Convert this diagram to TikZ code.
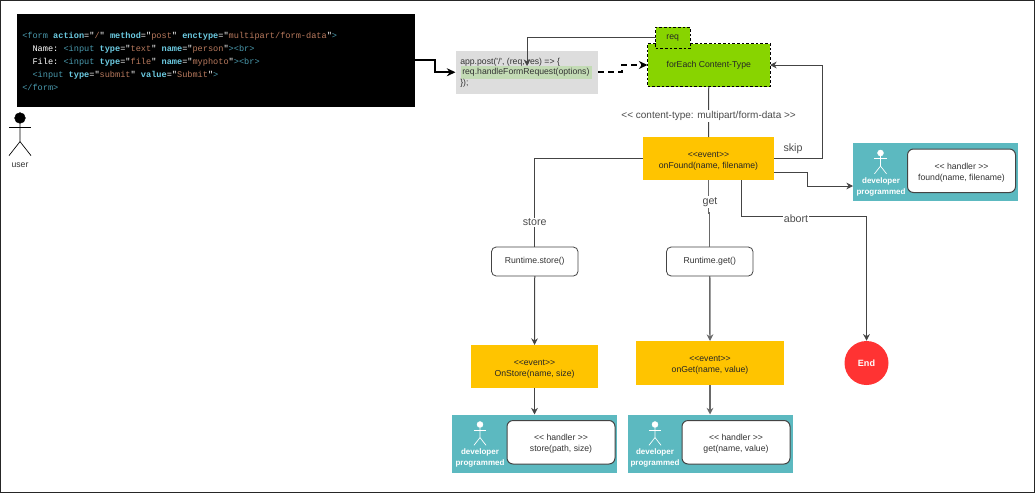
\documentclass[tikz,border=0pt]{standalone}
\usepackage{fontspec}
\usetikzlibrary{arrows.meta}
\setmainfont{Liberation Sans}
\newfontfamily\codefont{Liberation Mono}
\definecolor{evcol}{HTML}{FFC400}
\definecolor{devcol}{HTML}{5CB9C0}
\definecolor{limecol}{HTML}{88D400}
\definecolor{appcol}{HTML}{DDDDDD}
\definecolor{hlcol}{HTML}{C3DBB5}
\definecolor{linecol}{HTML}{444444}
\definecolor{tagcol}{HTML}{4A9AAE}
\definecolor{attrcol}{HTML}{6CCBE2}
\definecolor{valcol}{HTML}{B97A5E}
\newcommand{\tg}[1]{\textcolor{tagcol}{#1}}
\newcommand{\at}[1]{\textcolor{attrcol}{\bfseries #1}}
\newcommand{\vl}[1]{\textcolor{valcol}{#1}}
\newcommand{\toptxt}[1]{\rule{0pt}{7.5pt}#1}
\newcommand{\stickman}[5]{% name, x, y of head, colour, scale
\node[draw=#4,fill=#4,shape=circle,inner sep=0pt,minimum size=#5*8pt,name=#1] at (#2,#3){};
\draw[#4,line width=.5pt] (#1.south)--++(0,#5*18)--++(#5*-11,#5*14);
\draw[#4,line width=.5pt] (#1.south)++(0,#5*18)--++(#5*11,#5*14);
\draw[#4,line width=.5pt] (#1.south)++(#5*-11,#5*4)--++(#5*22,0);
}
\tikzset{
  wh/.style 2 args={minimum width=#1*0.75pt,minimum height=#2*0.75pt,inner sep=0pt,outer sep=0pt},
  txt/.style={font=\fontsize{6.5}{8.25}\selectfont,text=black!80,align=center},
  lab/.style={font=\fontsize{8}{9.5}\selectfont,text=black!70,fill=white,inner sep=.8pt},
  evbox/.style={fill=evcol,txt,text=black!85},
  devbox/.style={fill=devcol,wh={165}{58}},
  handlerbox/.style={draw=linecol,line width=.75pt,fill=white,rounded corners=4.5pt,wh={108}{43.5},txt},
  rtbox/.style={draw=linecol,line width=.6pt,fill=white,rounded corners=3.5pt,wh={86.5}{29},txt},
  devtxt/.style={font=\fontsize{6}{7.6}\selectfont\bfseries,text=white,align=center,inner sep=0pt},
  conn/.style={draw=linecol,line width=.75pt,-{Stealth[length=5pt,width=5pt]}},
  thickconn/.style={draw=black,line width=1.2pt,-{Stealth[length=6.5pt,width=6pt]}},
  limebox/.style={draw=black,dash pattern=on 2pt off 1.5pt,line width=.6pt,fill=limecol,txt,text=black!85},
}
\begin{document}
\begin{tikzpicture}[x=0.75pt,y=-0.75pt]
\useasboundingbox (0,0) rectangle (1035,493);
\draw[draw=black!85,line width=1pt] (0.5,0.5) rectangle (1034.5,492.5);
% form and user
\node[fill=black,wh={398}{93},name=form] at (216,60.5){};
\node[anchor=west,inner sep=0pt,align=left,text=white,font=\codefont\fontsize{6.45}{9.75}\selectfont\frenchspacing,name=formtxt] at (22,61){%
\tg{<form} \at{action}="\vl{/}" \at{method}="\vl{post}" \at{enctype}="\vl{multipart/form-data}"\tg{>}\\
\ \ Name: \tg{<input} \at{type}="\vl{text}" \at{name}="\vl{person}"\tg{><br>}\\
\ \ File: \tg{<input} \at{type}="\vl{file}" \at{name}="\vl{myphoto}"\tg{><br>}\\
\ \ \tg{<input} \at{type}="\vl{submit}" \at{value}="\vl{Submit}"\tg{>}\\
\tg{</form>}};
\stickman{userhead}{20}{118}{black}{1}
\node[txt,name=user] at (20,165){user};
% app.post box
\node[fill=appcol,wh={142.5}{43.5},name=app] at (526.75,72.25){};
\node[fill=hlcol,wh={131}{13},name=appreq] at (526.5,72){};
\node[txt,anchor=west,inner sep=0pt,name=apptop] at (460,62){app.post(\textquotesingle/\textquotesingle, (req, res) => \{};
\node[txt,anchor=west,inner sep=0pt,name=appmid] at (462,72){req.handleFormRequest(options)};
\node[txt,anchor=west,inner sep=0pt,name=append] at (460,83){\});};
% forEach
\node[limebox,wh={122.5}{43},name=foreach] at (708.75,65){forEach Content-Type};
\node[limebox,wh={34.5}{21.5},name=req] at (672.75,37.75){req};
% events
\node[evbox,wh={131}{43},name=found] at (708.5,158.5){\toptxt{<{}<event>{}>}\\onFound(name, filename)};
\node[evbox,wh={127}{43},name=onstore] at (534.5,366.5){\toptxt{<{}<event>{}>}\\OnStore(name, size)};
\node[evbox,wh={148}{44},name=onget] at (710,363){\toptxt{<{}<event>{}>}\\onGet(name, value)};
\node[rtbox,name=rtstore] at (534.75,261.5){Runtime.store()};
\node[rtbox,name=rtget] at (709.75,261.5){Runtime.get()};
\node[fill=red!80!white,shape=circle,minimum size=33pt,inner sep=0pt,text=white,font=\fontsize{6.8}{8}\selectfont\bfseries,name=theend] at (866.5,363){End};
% developer programmed
\node[devbox,name=dev1] at (935.5,172){};
\node[devbox,name=dev2] at (534.75,443.5){};
\node[devbox,name=dev3] at (710,443.5){};
\node[handlerbox,name=h1] at (961.5,170.75){\toptxt{<{}< handler >{}>}\\found(name, filename)};
\node[handlerbox,name=h2] at (561,442.25){\toptxt{<{}< handler >{}>}\\store(path, size)};
\node[handlerbox,name=h3] at (736,442.25){\toptxt{<{}< handler >{}>}\\get(name, value)};
\stickman{head1}{880.5}{153}{white}{.55}
\stickman{head2}{480}{424.5}{white}{.55}
\stickman{head3}{655}{424.5}{white}{.55}
\node[devtxt,name=d1] at (881,187){developer\\programmed};
\node[devtxt,name=d2] at (480,458){developer\\programmed};
\node[devtxt,name=d3] at (655,458){developer\\programmed};
% connectors
\coordinate (a1) at (435,60);
\coordinate (a2) at (622,72);
\coordinate (reqend) at (527,66);
\coordinate (skipc) at (822,65);
\coordinate (gotob) at (807,172);
\coordinate (foundb) at (774,172);
\coordinate (devb) at (853,186);
\coordinate (getb) at (708.5,213);
\coordinate (aborta) at (741.5,180);
\coordinate (abortb) at (741.5,216.5);
\coordinate (abortc) at (866.5,216.5);
\draw[thickconn] (form.east|-a1)--(a1)|-(app.west);
\draw[thickconn,dash pattern=on 4.5pt off 3pt] (app.east|-a2)--(a2)|-(foreach.west);
\draw[conn] (req.west)-|(reqend);
\draw[draw=linecol,line width=.75pt] (foreach.south)--(found.north)node[pos=.58,lab,font=\fontsize{7.5}{9}\selectfont]{<{}< content-type: multipart/form-data >{}>};
\draw[conn] (found.east)-|(skipc)--(foreach.east);
\node[lab,fill=none,name=skiplab] at (793,149){skip};
\draw[conn] (foundb)-|(gotob)|-(devb);
\draw[draw=linecol,line width=.75pt] (found.west)-|(rtstore.north)node[pos=.86,lab]{store};
\draw[draw=linecol!80,line width=1.1pt] (found.south)--(getb)--(getb-|rtget.north)--(rtget.north);
\node[lab,name=getlab] at (710,202){get};
\draw[conn] (aborta)--(abortb)--(abortc)--(theend.north);
\node[lab,name=abortlab] at (796,218.5){abort};
\draw[conn] (rtstore.south)--(onstore.north);
\draw[conn] (onstore.south)--(onstore.south|-dev2.north);
\draw[conn,draw=linecol!80,line width=1.1pt] (rtget.south)--(onget.north);
\draw[conn,draw=linecol!80,line width=1.1pt] (onget.south)--(dev3.north);
\end{tikzpicture}
\end{document}
